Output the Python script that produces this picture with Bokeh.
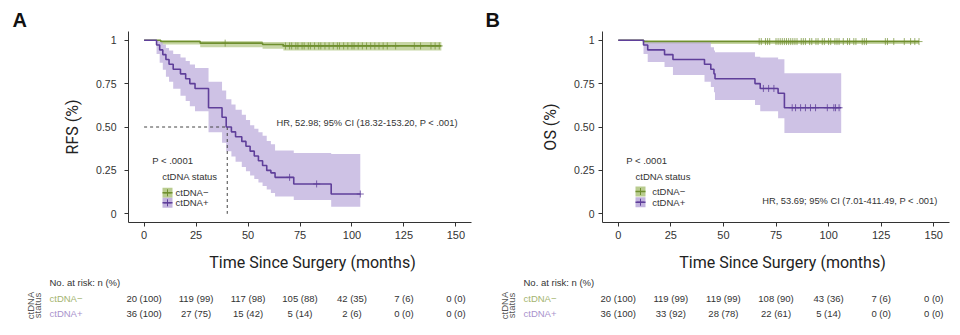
import numpy as np
from bokeh.plotting import figure
from bokeh.layouts import column, row
from bokeh.models import Range1d, FixedTicker
from bokeh.core.properties import value
from bokeh.embed import file_html
from bokeh.resources import INLINE

# ---------------- data ----------------
x_ticks = [0, 25, 50, 75, 100, 125, 150]
y_ticks = [0, 0.25, 0.5, 0.75, 1]
y_tick_labels = ["0", "0.25", "0.50", "0.75", "1"]
risk_times = [0, 25, 50, 75, 100, 125, 150]

# Panel A (RFS)
A_neg_t = [0, 8, 27, 57, 67, 143]
A_neg_s = [1.0, 0.992, 0.983, 0.975, 0.967, 0.967]
A_neg_lo = [1.0, 0.975, 0.96, 0.95, 0.94, 0.94]
A_neg_hi = [1.0, 1.0, 0.995, 0.99, 0.99, 0.99]
A_neg_cens = [39, 68, 70, 71, 73, 74, 76, 77, 79, 80, 82, 84, 85, 87, 89, 91, 93, 94, 96,
              98, 100, 101, 103, 105, 107, 109, 111, 113, 115, 117, 121, 130, 133, 138, 140, 142]

A_pos_t = [0, 6, 7.5, 9, 10.5, 12, 14, 17.5, 20, 22, 24.5, 31, 37.5, 39.5, 42, 44, 47, 49,
           51, 53, 55, 57, 59, 61, 63, 72, 90, 104]
A_pos_s = [1.0, 0.972, 0.944, 0.917, 0.889, 0.861, 0.833, 0.806, 0.778, 0.75, 0.722, 0.611,
           0.556, 0.50, 0.472, 0.444, 0.417, 0.389, 0.361, 0.333, 0.306, 0.278, 0.25, 0.236,
           0.21, 0.172, 0.114, 0.114]
A_pos_lo = [1.0, 0.92, 0.87, 0.83, 0.79, 0.76, 0.72, 0.68, 0.65, 0.62, 0.59, 0.47, 0.41,
            0.36, 0.33, 0.30, 0.27, 0.245, 0.22, 0.20, 0.18, 0.16, 0.14, 0.12, 0.10, 0.08,
            0.04, 0.04]
A_pos_hi = [1.0, 1.0, 0.99, 0.975, 0.955, 0.94, 0.92, 0.90, 0.88, 0.86, 0.84, 0.76, 0.71,
            0.66, 0.63, 0.60, 0.57, 0.54, 0.51, 0.49, 0.47, 0.45, 0.42, 0.40, 0.365, 0.35,
            0.345, 0.345]
A_pos_cens = [70, 83, 104]
A_median = 40

A_risk_neg = ["20 (100)", "119 (99)", "117 (98)", "105 (88)", "42 (35)", "7 (6)", "0 (0)"]
A_risk_pos = ["36 (100)", "27 (75)", "15 (42)", "5 (14)", "2 (6)", "0 (0)", "0 (0)"]

# Panel B (OS)
B_neg_t = [0, 12, 143]
B_neg_s = [1.0, 0.992, 0.992]
B_neg_lo = [1.0, 0.978, 0.978]
B_neg_hi = [1.0, 1.0, 1.0]
B_neg_cens = [67, 68, 70, 71, 72, 75, 76, 77, 78, 79, 80, 81, 82, 83, 84, 85, 87, 88, 89, 91,
              92, 94, 95, 97, 98, 100, 101, 103, 104, 105, 107, 109, 110, 112, 113, 116, 117,
              118, 127, 128, 131, 136, 139, 141, 143]

B_pos_t = [0, 12, 14, 22, 26, 41, 44, 45.5, 46, 65, 67.5, 76, 79, 106]
B_pos_s = [1.0, 0.972, 0.944, 0.917, 0.889, 0.861, 0.833, 0.806, 0.778, 0.75, 0.722, 0.694,
           0.611, 0.611]
B_pos_lo = [1.0, 0.92, 0.875, 0.846, 0.80, 0.76, 0.73, 0.70, 0.655, 0.627, 0.59, 0.55,
            0.465, 0.465]
B_pos_hi = [1.0, 1.0, 0.99, 0.99, 0.99, 0.99, 0.96, 0.94, 0.93, 0.905, 0.90, 0.89, 0.81, 0.81]
B_pos_cens = [69, 71.5, 74, 82.7, 84.3, 86.7, 89, 91.4, 93.8, 99.4, 102.5, 103.3, 105]

B_risk_neg = ["20 (100)", "119 (99)", "119 (99)", "108 (90)", "43 (36)", "7 (6)", "0 (0)"]
B_risk_pos = ["36 (100)", "33 (92)", "28 (78)", "22 (61)", "5 (14)", "0 (0)", "0 (0)"]

# ---------------- style ----------------
GREEN_LINE = "#6f8f2f"
GREEN_FILL = "#b9cc8f"
PURPLE_LINE = "#5f3f9a"
PURPLE_FILL = "#c2b3de"
GREEN_TXT = "#a4b470"
PURPLE_TXT = "#a992cc"
TXT = "#333333"
FONT = "Liberation Sans"

W, TOP_H, BOT_H = 480, 245, 90
F_TOP, F_H = 31, 191
XR = (-7.5, 157.5)
YR = (-0.05, 1.05)


def step_value(t, s, c):
    idx = np.searchsorted(np.array(t), np.array(c), side="right") - 1
    return list(np.array(s)[idx])


def make_panel(cfg):
    L, FW = cfg["left"], cfg["frame_w"]
    R = W - L - FW
    ppm = FW / (XR[1] - XR[0])
    ppy = F_H / (YR[1] - YR[0])

    def cx(px):
        return XR[0] + (px - L) / ppm

    def cy(py):
        return YR[0] + (F_TOP + F_H - py) / ppy

    p = figure(width=W, height=TOP_H, x_range=Range1d(*XR), y_range=Range1d(*YR),
               output_backend="svg", toolbar_location=None,
               min_border_left=L, min_border_right=R, min_border_top=F_TOP,
               min_border_bottom=TOP_H - F_TOP - F_H)
    p.xgrid.visible = False
    p.ygrid.visible = False
    p.outline_line_color = None

    # panel letter via title
    p.title.text = cfg["letter"]
    p.title.align = "left"
    p.title.offset = cfg["letter_x"] - L
    p.title.standoff = 2
    p.title.text_font = FONT
    p.title.text_font_size = "20px"
    p.title.text_font_style = "bold"
    p.title.text_color = "#111111"

    p.xaxis.ticker = FixedTicker(ticks=x_ticks)
    p.yaxis.ticker = FixedTicker(ticks=y_ticks)
    p.yaxis.major_label_overrides = {t: l for t, l in zip(y_ticks, y_tick_labels)}
    for ax in (p.xaxis[0], p.yaxis[0]):
        ax.axis_line_color = TXT
        ax.major_tick_line_color = TXT
        ax.major_tick_out = 4
        ax.major_tick_in = 0
        ax.minor_tick_line_color = None
        ax.major_label_text_color = TXT
        ax.major_label_text_font = FONT
    p.xaxis.major_label_text_font_size = "11px"
    p.yaxis.major_label_text_font_size = "10.5px"
    p.xaxis.major_label_standoff = 4
    p.yaxis.major_label_standoff = cfg["ylab_standoff"]
    p.yaxis.axis_label = cfg["ylabel"]
    p.yaxis.axis_label_text_font = "Roboto"
    p.yaxis.axis_label_text_font_style = "normal"
    p.yaxis.axis_label_text_font_size = "16px"
    p.yaxis.axis_label_text_color = "#222222"
    p.yaxis.axis_label_standoff = 11

    # bands
    p.varea_step(x=cfg["neg_t"], y1=cfg["neg_lo"], y2=cfg["neg_hi"], step_mode="after",
                 fill_color=GREEN_FILL, fill_alpha=0.8)
    p.varea_step(x=cfg["pos_t"], y1=cfg["pos_lo"], y2=cfg["pos_hi"], step_mode="after",
                 fill_color=PURPLE_FILL, fill_alpha=0.8)
    # median lines
    if cfg.get("median") is not None:
        m = cfg["median"]
        p.segment(x0=[0, m], y0=[0.5, 0.5], x1=[m, m], y1=[0.5, 0], line_color="#444444",
                  line_dash="3 3", line_width=1)
    # curves
    p.step(x=cfg["neg_t"], y=cfg["neg_s"], mode="after", line_color=GREEN_LINE, line_width=1.6)
    p.step(x=cfg["pos_t"], y=cfg["pos_s"], mode="after", line_color=PURPLE_LINE, line_width=1.6)
    # censor marks
    p.scatter(x=cfg["neg_c"], y=step_value(cfg["neg_t"], cfg["neg_s"], cfg["neg_c"]),
              marker="cross", size=7, line_color=GREEN_LINE, line_width=1, line_alpha=0.7)
    p.scatter(x=cfg["pos_c"], y=step_value(cfg["pos_t"], cfg["pos_s"], cfg["pos_c"]),
              marker="cross", size=7, line_color=PURPLE_LINE, line_width=1, line_alpha=0.8)

    # legend
    lg = cfg["legend"]
    sx = cx(lg["swatch_x"])
    sy = [cy(lg["row1_y"]), cy(lg["row2_y"])]
    p.rect(x=[sx, sx], y=sy, width=10, height=10, width_units="screen", height_units="screen",
           fill_color=[GREEN_FILL, PURPLE_FILL], line_color=None)
    p.scatter(x=[sx, sx], y=sy, marker="dash", size=10,
              line_color=[GREEN_LINE, PURPLE_LINE], line_width=1.5)
    p.scatter(x=[sx, sx], y=sy, marker="cross", size=7,
              line_color=[GREEN_LINE, PURPLE_LINE], line_width=1)
    p.text(x=[cx(lg["text_x"])] * 2, y=sy, text=["ctDNA\u2212", "ctDNA+"],
           text_font=value(FONT), text_font_size="9.5px", text_color=TXT,
           text_baseline="middle", text_align="left")
    p.text(x=[cx(lg["p_x"]), cx(lg["title_x"])], y=[cy(lg["p_y"]), cy(lg["title_y"])],
           text=["P < .0001", "ctDNA status"], text_font=value(FONT), text_font_size="9.5px",
           text_color=TXT, text_baseline="middle", text_align="left")
    # HR text
    p.text(x=[cx(cfg["hr_x"])], y=[cy(cfg["hr_y"])], text=[cfg["hr"]], text_font=value(FONT),
           text_font_size="9.3px", text_color=TXT, text_baseline="middle", text_align="left")

    # ---------- axis title + risk table (full-width frame) ----------
    xs = XR[0] - L / ppm
    xe = XR[1] + R / ppm
    q = figure(width=W, height=BOT_H, x_range=Range1d(xs, xe), y_range=Range1d(BOT_H, 0),
               output_backend="svg", toolbar_location=None, min_border=0,
               x_axis_location=None, y_axis_location=None)
    q.xgrid.visible = False
    q.ygrid.visible = False
    q.outline_line_color = None

    def qx(rel):  # pixel offset relative to frame-left of the plot above
        return xs + (L + rel) / ppm

    q.text(x=[qx(cfg["xtitle_x"] - L)], y=[262 - TOP_H], text=["Time Since Surgery (months)"],
           text_font=value("Roboto"), text_font_size="16px", text_color="#222222",
           text_baseline="middle", text_align="center")

    r0, r1, r2 = 282 - TOP_H, 298 - TOP_H, 313 - TOP_H
    q.text(x=[qx(-79)], y=[r0], text=["No. at risk: n (%)"], text_font=value(FONT),
           text_font_size="9.5px", text_color=TXT, text_baseline="middle", text_align="left")
    q.text(x=[qx(-79), qx(-79)], y=[r1, r2], text=["ctDNA\u2212", "ctDNA+"],
           text_font=value(FONT), text_font_size="9.5px", text_color=[GREEN_TXT, PURPLE_TXT],
           text_baseline="middle", text_align="left")
    q.text(x=[qx(-98), qx(-91)], y=[305 - TOP_H] * 2, text=["ctDNA", "status"],
           angle=np.pi / 2, text_font=value(FONT), text_font_size="9.5px", text_color="#555555",
           text_baseline="middle", text_align="center")
    q.text(x=risk_times, y=[r1] * len(risk_times), text=cfg["risk_neg"], text_font=value(FONT),
           text_font_size="9.5px", text_color=TXT, text_baseline="middle", text_align="center")
    q.text(x=risk_times, y=[r2] * len(risk_times), text=cfg["risk_pos"], text_font=value(FONT),
           text_font_size="9.5px", text_color=TXT, text_baseline="middle", text_align="center")
    return p, q


cfgA = dict(left=128, frame_w=343, ylabel="RFS (%)", ylab_standoff=8, letter="A", letter_x=12,
            xtitle_x=312, neg_t=A_neg_t, neg_s=A_neg_s, neg_lo=A_neg_lo, neg_hi=A_neg_hi,
            neg_c=A_neg_cens, pos_t=A_pos_t, pos_s=A_pos_s, pos_lo=A_pos_lo, pos_hi=A_pos_hi,
            pos_c=A_pos_cens, median=A_median,
            hr="HR, 52.98; 95% CI (18.32-153.20, P < .001)", hr_x=276, hr_y=122.7,
            legend=dict(swatch_x=167, row1_y=192.3, row2_y=202.3, text_x=175, p_x=151.7,
                        p_y=160, title_x=161.7, title_y=175.7),
            risk_neg=A_risk_neg, risk_pos=A_risk_pos)
cfgB = dict(left=122, frame_w=347, ylabel="OS (%)", ylab_standoff=4, letter="B", letter_x=5,
            xtitle_x=302, neg_t=B_neg_t, neg_s=B_neg_s, neg_lo=B_neg_lo, neg_hi=B_neg_hi,
            neg_c=B_neg_cens, pos_t=B_pos_t, pos_s=B_pos_s, pos_lo=B_pos_lo, pos_hi=B_pos_hi,
            pos_c=B_pos_cens, median=None,
            hr="HR, 53.69; 95% CI (7.01-411.49, P < .001)", hr_x=281.7, hr_y=200,
            legend=dict(swatch_x=160, row1_y=191, row2_y=201.7, text_x=171.7, p_x=145.7,
                        p_y=160, title_x=155, title_y=175.7),
            risk_neg=B_risk_neg, risk_pos=B_risk_pos)

pA, qA = make_panel(cfgA)
pB, qB = make_panel(cfgB)

layout = column(row(pA, pB), row(qA, qB))
open("out.html", "w").write(file_html(layout, INLINE))
